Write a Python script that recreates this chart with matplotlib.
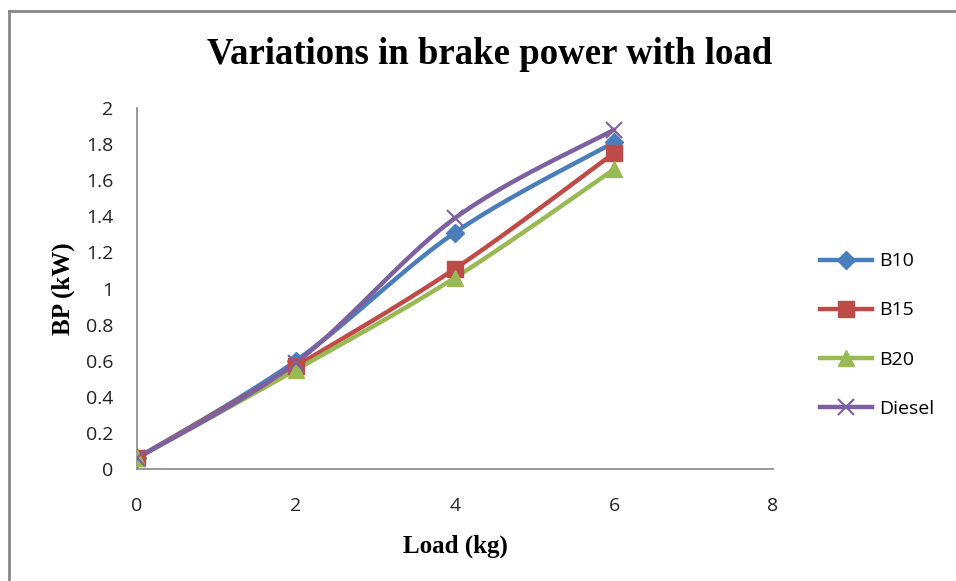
import numpy as np
import matplotlib
matplotlib.use("Agg")
import matplotlib.pyplot as plt
from matplotlib.lines import Line2D

# ---- data ----
load = [0, 2, 4, 6]
b10 = [0.06, 0.60, 1.31, 1.81]
b15 = [0.06, 0.57, 1.11, 1.75]
b20 = [0.06, 0.55, 1.06, 1.66]
diesel = [0.06, 0.59, 1.39, 1.88]
series_names = ["B10", "B15", "B20", "Diesel"]
yticks = [0, 0.2, 0.4, 0.6, 0.8, 1, 1.2, 1.4, 1.6, 1.8, 2]
ytick_labels = ["0", "0.2", "0.4", "0.6", "0.8", "1", "1.2", "1.4", "1.6", "1.8", "2"]
xticks = [0, 2, 4, 6, 8]

colors = ["#4A7EBB", "#BE4B48", "#98B954", "#7D60A0"]
markers = ["D", "s", "^", "x"]
msizes = [9, 11, 11, 12]


def smooth(x, y, n=40):
    """Excel-like smoothed line (Catmull-Rom cubic Bezier)."""
    x = np.asarray(x, float)
    y = np.asarray(y, float)
    pts = np.column_stack([x, y])
    out = []
    for i in range(len(pts) - 1):
        p0 = pts[i - 1] if i > 0 else pts[i]
        p1 = pts[i]
        p2 = pts[i + 1]
        p3 = pts[i + 2] if i + 2 < len(pts) else pts[i + 1]
        c1 = p1 + (p2 - p0) / 6.0
        c2 = p2 - (p3 - p1) / 6.0
        t = np.linspace(0, 1, n)[:, None]
        seg = ((1 - t) ** 3) * p1 + 3 * ((1 - t) ** 2) * t * c1 + 3 * (1 - t) * t ** 2 * c2 + t ** 3 * p2
        out.append(seg if i == 0 else seg[1:])
    arr = np.vstack(out)
    return arr[:, 0], arr[:, 1]


fig = plt.figure(figsize=(9.56, 5.81), dpi=100)
ax = fig.add_axes([137 / 956, 1 - 469 / 581, (773 - 137) / 956, (469 - 108) / 581])

for ys, c, m, ms, name in zip([b10, b15, b20, diesel], colors, markers, msizes, series_names):
    sx, sy = smooth(load, ys)
    ax.plot(sx, sy, color=c, lw=3.2, solid_capstyle="round", zorder=2)
    if m == "x":
        ax.plot(load, ys, linestyle="none", marker=m, color=c, ms=ms, mew=1.5, zorder=3)
    else:
        ax.plot(load, ys, linestyle="none", marker=m, color=c, ms=ms, mec=c, zorder=3)

ax.set_xlim(0, 8)
ax.set_ylim(0, 2)
ax.set_xticks(xticks)
ax.set_xticklabels([str(v) for v in xticks])
ax.set_yticks(yticks)
ax.set_yticklabels(ytick_labels)
ax.tick_params(length=0, labelsize=14)
ax.tick_params(axis="x", pad=20)
ax.tick_params(axis="y", pad=17)
for lab in ax.get_xticklabels() + ax.get_yticklabels():
    lab.set_fontfamily("Open Sans")
    lab.set_color("#222222")
ax.spines["top"].set_visible(False)
ax.spines["right"].set_visible(False)
for s in ["left", "bottom"]:
    ax.spines[s].set_color("#888888")
    ax.spines[s].set_linewidth(1.2)

ax.set_xlabel("Load (kg)", fontfamily="Liberation Serif", fontweight="bold", fontsize=18, labelpad=14)
ax.set_ylabel("BP (kW)", fontfamily="Liberation Serif", fontweight="bold", fontsize=18, labelpad=8)
fig.text(0.512, 1 - 55 / 581, "Variations in brake power with load", ha="center", va="center",
         fontfamily="Liberation Serif", fontweight="bold", fontsize=26.5)

handles = []
for c, m, ms in zip(colors, markers, msizes):
    if m == "x":
        handles.append(Line2D([], [], color=c, lw=3.2, marker=m, ms=ms, mew=1.5))
    else:
        handles.append(Line2D([], [], color=c, lw=3.2, marker=m, ms=ms, mec=c))
leg = fig.legend(handles, series_names, loc="center left", bbox_to_anchor=(812 / 956, 1 - 335 / 581),
                 frameon=False, prop={"family": "Open Sans", "size": 14}, labelspacing=1.6,
                 handlelength=2.7, handletextpad=0.35, borderaxespad=0)

# outer chart border
fig.add_artist(plt.Line2D([9 / 956, 9 / 956], [0, 1 - 11 / 581], transform=fig.transFigure,
                          color="#888888", lw=2))
fig.add_artist(plt.Line2D([9 / 956, 1], [1 - 11 / 581, 1 - 11 / 581], transform=fig.transFigure,
                          color="#888888", lw=2))

fig.savefig("out.png", dpi=100)
